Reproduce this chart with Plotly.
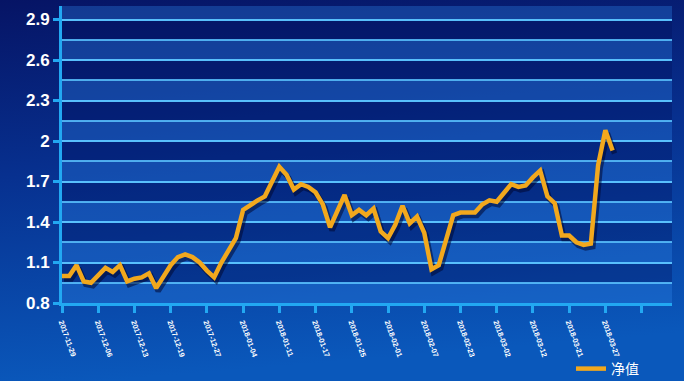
import base64
import plotly.graph_objects as go

# ---- data ----
nav_values = [1.00, 1.00, 1.08, 0.96, 0.95, 1.01, 1.06, 1.03, 1.08, 0.96,
              0.98, 0.99, 1.02, 0.91, 1.00, 1.08, 1.14, 1.16, 1.14, 1.10,
              1.04, 0.99, 1.10, 1.19, 1.28, 1.49, 1.53, 1.56, 1.59, 1.71,
              1.81, 1.75, 1.64, 1.68, 1.66, 1.62, 1.53, 1.36, 1.48, 1.60,
              1.45, 1.49, 1.45, 1.50, 1.33, 1.28, 1.38, 1.52, 1.39, 1.44,
              1.32, 1.05, 1.08, 1.26, 1.45, 1.47, 1.47, 1.47, 1.53, 1.56,
              1.55, 1.62, 1.68, 1.66, 1.67, 1.73, 1.78, 1.59, 1.54, 1.30,
              1.30, 1.25, 1.23, 1.24, 1.82, 2.08, 1.93]
x_index = list(range(len(nav_values)))
tick_positions = list(range(0, 81, 5))
tick_labels = ["2017-11-29", "2017-12-06", "2017-12-13", "2017-12-19", "2017-12-27",
               "2018-01-04", "2018-01-11", "2018-01-17", "2018-01-25", "2018-02-01",
               "2018-02-07", "2018-02-23", "2018-03-02", "2018-03-12", "2018-03-21",
               "2018-03-27", ""]
y_ticks = [0.8, 1.1, 1.4, 1.7, 2.0, 2.3, 2.6, 2.9]
y_tick_text = ["0.8", "1.1", "1.4", "1.7", "2", "2.3", "2.6", "2.9"]
series_name = "净值"

# ---- layout geometry ----
W, H = 684, 381
ML, MR, MT, MB = 62, 12, 6, 78
PW, PH = W - ML - MR, H - MT - MB
XR = [0, 84.2]
YR = [0.8, 3.0]

# shadow offset (pixels)
dx_px, dy_px = 2.0, 3.0
dx = dx_px * (XR[1] - XR[0]) / PW
dy = dy_px * (YR[1] - YR[0]) / PH

# gradient background via svg
svg = ('<svg xmlns="http://www.w3.org/2000/svg" width="684" height="381" preserveAspectRatio="none">'
       '<defs><linearGradient id="g" x1="0" y1="0" x2="0.15" y2="1">'
       '<stop offset="0" stop-color="#061465"/>'
       '<stop offset="0.45" stop-color="#07308f"/>'
       '<stop offset="1" stop-color="#0a58bb"/>'
       '</linearGradient></defs><rect width="684" height="381" fill="url(#g)"/></svg>')
src = "data:image/svg+xml;base64," + base64.b64encode(svg.encode()).decode()

fig = go.Figure()

fig.add_trace(go.Scatter(x=x_index, y=nav_values, mode="lines",
                         line=dict(color="rgba(0,8,50,0.55)", width=5.5),
                         xaxis="x2", yaxis="y2", showlegend=False, hoverinfo="skip"))
fig.add_trace(go.Scatter(x=x_index, y=nav_values, mode="lines", name=series_name,
                         line=dict(color="#F2A81D", width=4.5),
                         xaxis="x3", yaxis="y3"))

# alternating bands
shapes = []
step = 0.15
n_bands = int(round((YR[1] - YR[0]) / step))
for k in range(n_bands):
    y0 = YR[0] + k * step
    y1 = y0 + step
    color = "rgba(45,135,235,0.33)" if k % 2 == 0 else "rgba(0,15,90,0.33)"
    shapes.append(dict(type="rect", xref="paper", yref="y", x0=0, x1=1, y0=y0, y1=y1,
                       fillcolor=color, line=dict(width=0), layer="below"))

axis_color = "#22A8F2"
fig.update_layout(
    width=W, height=H,
    margin=dict(l=ML, r=MR, t=MT, b=MB, autoexpand=False),
    paper_bgcolor="#0a3a9c",
    plot_bgcolor="rgba(0,0,0,0)",
    images=[dict(source=src, xref="paper", yref="paper",
                 x=-ML / PW, y=1 + MT / PH, sizex=W / PW, sizey=H / PH,
                 sizing="stretch", layer="below", xanchor="left", yanchor="top")],
    shapes=shapes,
    xaxis=dict(range=XR, tickmode="array", tickvals=tick_positions, ticktext=tick_labels,
               tickangle=70, tickfont=dict(size=7.5, color="white", family="Arial", weight="bold"),
               ticklabelstandoff=2,
               showline=True, linecolor=axis_color, linewidth=3,
               ticks="outside", ticklen=7, tickwidth=2.5, tickcolor=axis_color,
               showgrid=False, zeroline=False, automargin=False),
    yaxis=dict(range=YR, tickmode="array", tickvals=y_ticks, ticktext=y_tick_text,
               tickfont=dict(size=17, color="white", family="Arial", weight="bold"),
               showline=True, linecolor=axis_color, linewidth=3,
               ticks="outside", ticklen=6, tickwidth=2.5, tickcolor=axis_color,
               showgrid=True, gridcolor="rgba(90,195,255,0.85)", gridwidth=1.5,
               minor=dict(dtick=0.15, tick0=0.8, showgrid=True,
                          gridcolor="rgba(90,195,255,0.85)", gridwidth=1.5, ticks=""),
               zeroline=False, automargin=False),
    xaxis2=dict(range=[XR[0] - dx, XR[1] - dx], overlaying="x", visible=False),
    yaxis2=dict(range=[YR[0] + dy, YR[1] + dy], overlaying="y", visible=False),
    xaxis3=dict(range=XR, overlaying="x", visible=False),
    yaxis3=dict(range=YR, overlaying="y", visible=False),
    legend=dict(x=(571 - ML) / PW, y=(303 - 369) / PH, xanchor="left", yanchor="middle",
                bgcolor="rgba(0,0,0,0)",
                font=dict(size=14, color="white", family="Arial, Noto Sans CJK SC")),
    showlegend=True,
)

fig.write_html("out.html")
